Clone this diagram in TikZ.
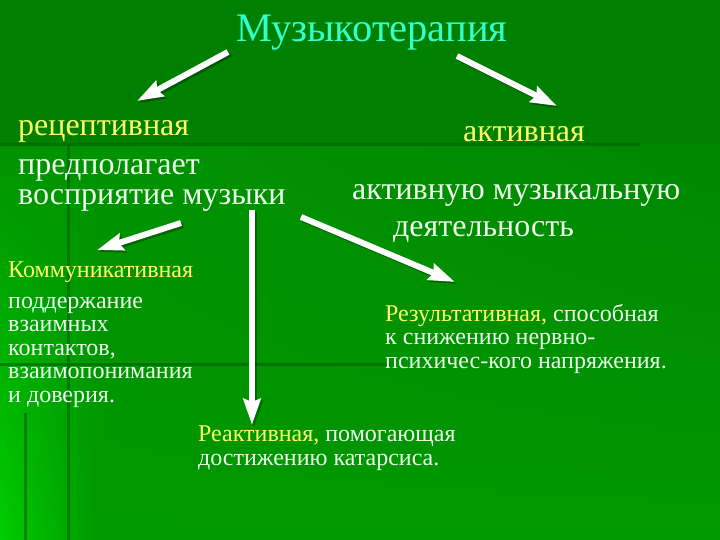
\documentclass[tikz,border=0pt]{standalone}
\usepackage{fontspec}
\setmainfont{Liberation Serif}
\usetikzlibrary{arrows.meta,positioning,shadings}
\definecolor{bgtop}{RGB}{0,128,0}
\definecolor{bgmid}{RGB}{0,146,0}
\definecolor{bglow}{RGB}{0,152,0}
\definecolor{bgbright}{RGB}{0,205,0}
\definecolor{bgline}{RGB}{0,95,0}
\definecolor{titlecyan}{HTML}{33FFCC}
\definecolor{kindyellow}{HTML}{FFFF66}
\definecolor{notewhite}{HTML}{EEFFEE}

\begin{document}
\begin{tikzpicture}[
    x=1bp, y=-1bp,
    every node/.style={inner sep=0pt, anchor=base west},
    titletext/.style={font=\fontsize{40.5bp}{44bp}\selectfont, text=titlecyan},
    bigfont/.style={font=\fontsize{32bp}{30bp}\selectfont},
    smallfont/.style={font=\fontsize{24bp}{23.5bp}\selectfont},
    kind/.style={text=kindyellow},
    note/.style={text=notewhite, align=left},
    whitearrow/.style={draw=white, line width=6bp,
        -{Stealth[length=26bp, width=17bp, inset=3bp]}},
    arrowshadow/.style={whitearrow, draw=black, opacity=0.3},
    bgstripe/.style={draw=bgline, line width=3bp, opacity=0.6},
]

% === Background ===
\useasboundingbox (0,0) rectangle (720,540);
\fill[bgtop] (0,0) rectangle (720,540);
\shade[upper left=bgmid, upper right=bgmid, lower left=bgbright, lower right=bglow]
    (0,145) rectangle (100,540);
\shade[upper left=bgmid, upper right=bgtop!60!bgmid, lower left=bglow, lower right=bglow]
    (100,145) rectangle (720,540);
\draw[bgstripe] (0,145) -- (640,145);
\draw[bgstripe] (68,145) -- (68,540);
\draw[bgstripe] (0,364) -- (390,364);
\draw[bgstripe] (25,413) -- (25,540);

% === Title ===
\node[titletext] (title) at (236,42) {Музыкотерапия};

% === Two kinds ===
% (base of a multi-line node = its last line)
\node[kind, bigfont] (recep) at (18,136) {рецептивная};
\node[note, bigfont] (recepnote) at (18,205) {предполагает\\восприятие музыки};

\node[kind, bigfont] (activ) at (463,142) {активная};
\node[note, bigfont] (activnote) at (352,200) {активную музыкальную};
\node[note, bigfont] (activnote2) at (393,237) {деятельность};

% === Three effects ===
\node[kind, smallfont] (comm) at (8,278) {Коммуникативная};
\node[note, smallfont] (commnote) at (8,402)
    {поддержание\\взаимных\\контактов,\\взаимопонимания\\и доверия.};

\node[note, smallfont] (result) at (385,368)
    {\textcolor{kindyellow}{Результативная,} способная\\к снижению нервно-\\психичес-кого напряжения.};

\node[note, smallfont] (react) at (198,465)
    {\textcolor{kindyellow}{Реактивная,} помогающая\\достижению катарсиса.};

% === Arrows ===
\coordinate (musicL) at (228,52);
\coordinate (recepIn) at (137,101);
\coordinate (musicR) at (457,56);
\coordinate (activIn) at (557,106);
\coordinate (percL) at (181,223);
\coordinate (commIn) at (97,250);
\coordinate (percM) at (252,210);
\coordinate (reactIn) at (252,425);
\coordinate (percR) at (301,217);
\coordinate (resultIn) at (455,282);

\foreach \from/\to in {musicL/recepIn, musicR/activIn, percL/commIn, percM/reactIn, percR/resultIn}{
    \draw[arrowshadow] ([shift={(2,2)}]\from) -- ([shift={(2,2)}]\to);
    \draw[whitearrow] (\from) -- (\to);
}

\end{tikzpicture}
\end{document}
